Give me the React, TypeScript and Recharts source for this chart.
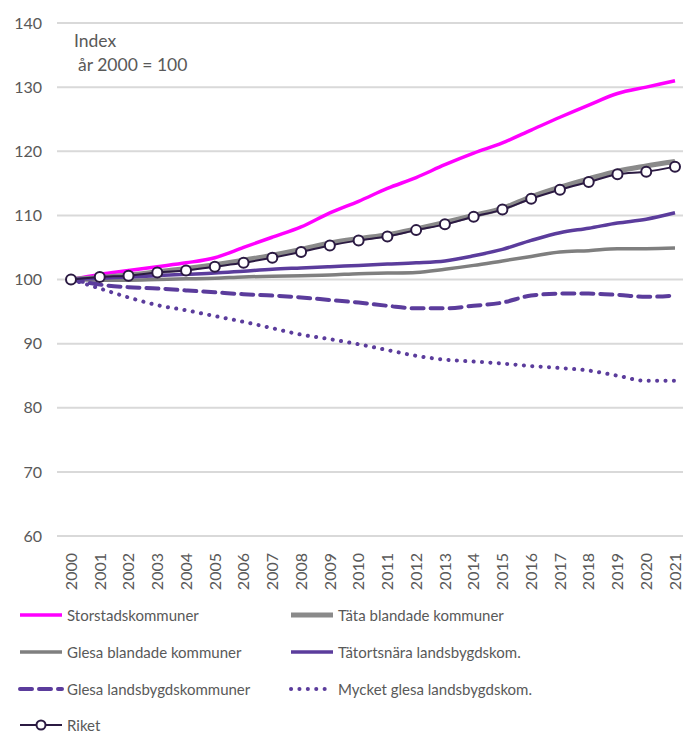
import React from 'react';
import { LineChart, Line, XAxis, YAxis, CartesianGrid } from 'recharts';

const years = ['2000', '2001', '2002', '2003', '2004', '2005', '2006', '2007', '2008', '2009', '2010',
  '2011', '2012', '2013', '2014', '2015', '2016', '2017', '2018', '2019', '2020', '2021'];

const storstad = [100, 100.8, 101.4, 102.0, 102.6, 103.4, 105.0, 106.6, 108.2, 110.4, 112.2,
  114.2, 115.9, 117.9, 119.7, 121.3, 123.3, 125.3, 127.2, 129.0, 130.0, 131.0];
const tataBlandade = [100, 100.3, 100.7, 101.2, 101.7, 102.3, 103.0, 103.8, 104.7, 105.7, 106.4,
  107.0, 107.9, 108.9, 110.0, 111.1, 112.9, 114.4, 115.7, 116.9, 117.7, 118.4];
const glesaBlandade = [100, 99.9, 99.9, 100.0, 100.1, 100.2, 100.4, 100.5, 100.6, 100.7, 100.9,
  101.0, 101.1, 101.6, 102.2, 102.9, 103.6, 104.3, 104.5, 104.8, 104.8, 104.9];
const tatortsnara = [100, 100.2, 100.4, 100.6, 100.8, 101.0, 101.3, 101.6, 101.8, 102.0, 102.2,
  102.4, 102.6, 102.9, 103.7, 104.7, 106.1, 107.3, 108.0, 108.8, 109.4, 110.4];
const glesaLandsbygd = [100, 99.2, 98.8, 98.6, 98.3, 98.0, 97.7, 97.5, 97.2, 96.8, 96.4,
  95.9, 95.5, 95.5, 95.9, 96.4, 97.5, 97.8, 97.8, 97.6, 97.3, 97.5];
const mycketGlesa = [100, 98.6, 97.2, 96.0, 95.2, 94.3, 93.4, 92.4, 91.4, 90.7, 89.9,
  89.0, 88.1, 87.5, 87.2, 86.9, 86.5, 86.2, 85.8, 85.0, 84.2, 84.2];
const riket = [100, 100.4, 100.6, 101.1, 101.4, 102.0, 102.6, 103.4, 104.3, 105.3, 106.1,
  106.7, 107.7, 108.6, 109.8, 110.9, 112.6, 114.0, 115.2, 116.4, 116.8, 117.6];

const yTicks = [60, 70, 80, 90, 100, 110, 120, 130, 140];

const data = years.map((year, i) => ({
  year,
  storstad: storstad[i],
  tataBlandade: tataBlandade[i],
  glesaBlandade: glesaBlandade[i],
  tatortsnara: tatortsnara[i],
  glesaLandsbygd: glesaLandsbygd[i],
  mycketGlesa: mycketGlesa[i],
  riket: riket[i],
}));

const PURPLE = '#5b3c9c';

const series = [
  { key: 'storstad', name: 'Storstadskommuner', color: '#ff00ff', width: 3.5 },
  { key: 'tataBlandade', name: 'Täta blandade kommuner', color: '#8a8a8a', width: 5 },
  { key: 'glesaBlandade', name: 'Glesa blandade kommuner', color: '#7f7f7f', width: 3.5 },
  { key: 'tatortsnara', name: 'Tätortsnära landsbygdskom.', color: PURPLE, width: 3.5 },
  { key: 'glesaLandsbygd', name: 'Glesa landsbygdskommuner', color: PURPLE, width: 4, dash: '12 7' },
  { key: 'mycketGlesa', name: 'Mycket glesa landsbygdskom.', color: PURPLE, width: 4, dash: '0.1 8.3' },
  { key: 'riket', name: 'Riket', color: '#2b1a42', width: 2, marker: true },
];

const FONT = 'Lato, "Noto Sans", sans-serif';
const TXT = '#595959';

const YearTick = (props: any) => {
  const { x, y, payload } = props;
  return (
    <g transform={`translate(${x},${y})`}>
      <text transform="rotate(-90)" x={-9} dy="0.36em" textAnchor="end" fontSize={16} fill={TXT} fontFamily={FONT}>
        {payload.value}
      </text>
    </g>
  );
};

const Swatch = ({ s }: { s: any }) => (
  <svg width={46} height={14} style={{ display: 'block' }}>
    <line x1={2} y1={7} x2={44} y2={7} stroke={s.color} strokeWidth={s.width}
      strokeDasharray={s.dash} strokeLinecap={s.dash ? 'round' : 'butt'} />
    {s.marker && <circle cx={23} cy={7} r={4.5} fill="#fff" stroke={s.color} strokeWidth={2} />}
  </svg>
);

const legendRows = [615, 652, 689, 725];

export default function App() {
  return (
    <div style={{ position: 'absolute', left: 0, top: 0, width: 683, height: 733, overflow: 'hidden', background: '#fff', fontFamily: FONT }}>
      <LineChart width={690} height={601} data={data} margin={{ top: 23, right: 0, bottom: 0, left: 0 }}>
        <CartesianGrid vertical={false} stroke="#d9d9d9" strokeWidth={2} />
        <XAxis dataKey="year" interval={0} axisLine={false} tickLine={false} height={65}
          padding={{ left: 14, right: 15 }} tick={<YearTick />} />
        <YAxis domain={[60, 140]} ticks={yTicks} width={57} axisLine={false} tickLine={false} tickSize={0} tickMargin={15}
          tick={{ fontSize: 16, fill: TXT, fontFamily: FONT }} />
        {series.map((s) => (
          <Line key={s.key} type="monotone" dataKey={s.key} name={s.name} stroke={s.color} strokeWidth={s.width}
            strokeDasharray={s.dash} strokeLinecap={s.dash ? 'round' : 'butt'}
            dot={s.marker ? { r: 5, fill: '#fff', stroke: s.color, strokeWidth: 2 } : false}
            activeDot={false} isAnimationActive={false} />
        ))}
      </LineChart>
      <div style={{ position: 'absolute', left: 74, top: 29, fontSize: 17.5, color: TXT, lineHeight: '24px' }}>
        <div>Index</div>
        <div style={{ paddingLeft: 4 }}>år 2000 = 100</div>
      </div>
      {series.map((s, i) => (
        <div key={s.key} style={{
          position: 'absolute', left: i % 2 === 0 ? 18 : 289, top: legendRows[Math.floor(i / 2)] - 10,
          height: 20, display: 'flex', alignItems: 'center', fontSize: 15, color: TXT,
        }}>
          <Swatch s={s} />
          <span style={{ marginLeft: 3 }}>{s.name}</span>
        </div>
      ))}
    </div>
  );
}
